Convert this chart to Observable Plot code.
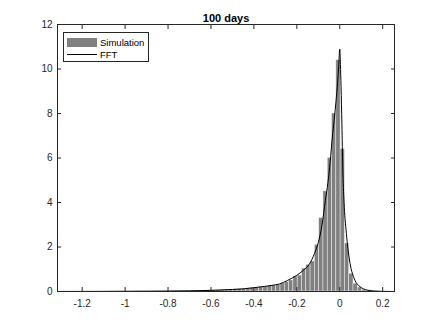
<!DOCTYPE html>
<html>
<head>
<meta charset="utf-8">
<script src="https://cdn.jsdelivr.net/npm/d3@7"></script>
<script src="https://cdn.jsdelivr.net/npm/@observablehq/plot@0.6"></script>
<style>
  html, body { margin: 0; padding: 0; background: #fff; }
  #wrap { position: relative; width: 436px; height: 327px; font-family: "Liberation Sans", Arial, Helvetica, sans-serif; }
  #legend { position: absolute; left: 63px; top: 32px; width: 86px; height: 30px; border: 1px solid #262626; background: #fff; font-size: 9.5px; color: #000; box-sizing: border-box; }
  .row { position: absolute; left: 3px; display: flex; align-items: center; height: 12px; white-space: nowrap; }
  .row span { color: #000; }
  .sw { width: 30px; height: 9px; background: #808080; margin-right: 3px; }
  .ln { width: 30px; height: 0; border-top: 1px solid #000; margin-right: 3px; }
</style>
</head>
<body>
<div id="wrap"></div>
<script>
const title = "100 days";
const seriesNames = ["Simulation", "FFT"];
// histogram (density) : first bin starts at binStart, each bin is binWidth wide
const binStart = -1.296;
const binWidth = 0.02;
const simDensity = [
  0.002,0,0.003,0.002,0.003,0.004,0.003,0.005,0.004,0.006,
  0.005,0.007,0.006,0.008,0.009,0.008,0.01,0.011,0.012,0.013,
  0.015,0.014,0.017,0.019,0.02,0.022,0.024,0.026,0.029,0.031,
  0.035,0.038,0.042,0.046,
  0.05,0.055,0.06,0.07,0.08,0.09,0.1,0.11,0.12,0.14,
  0.16,0.17,0.2,0.22,0.24,0.27,0.3,0.36,0.42,0.5,
  0.68,0.72,1.03,1.2,1.35,2.1,3.3,4.5,6.0,8.0,
  10.4,6.4,2.16,0.8,0.35,0.18,0.08,0.04,0.02,0.01,0.005,0.002,0.001
];
// FFT density curve
const fftX = [-1.31,-1.2,-1.1,-1.0,-0.9,-0.8,-0.7,-0.6,-0.5,-0.45,-0.4,-0.35,-0.3,-0.28,-0.243,-0.2,-0.17,-0.141,-0.118,-0.1,-0.083,-0.067,-0.055,-0.045,-0.033,-0.025,-0.018,-0.01,-0.005,0,0.003,0.006,0.01,0.014,0.02,0.029,0.036,0.044,0.052,0.06,0.075,0.09,0.11,0.13,0.16,0.2,0.25];
const fftY = [0.002,0.003,0.005,0.008,0.013,0.02,0.03,0.05,0.09,0.12,0.17,0.23,0.3,0.34,0.5,0.73,0.95,1.24,1.7,2.2,2.97,4.1,4.9,5.8,7.1,7.8,8.5,9.4,10.1,10.9,10.2,9.2,7.5,5.6,4.0,2.8,2.1,1.5,1.05,0.78,0.42,0.25,0.12,0.06,0.02,0.005,0.001];
const xTicks = [-1.2,-1,-0.8,-0.6,-0.4,-0.2,0,0.2];
const yTicks = [0,2,4,6,8,10,12];
const xDomain = [-1.315, 0.255];
const yDomain = [0, 12];

const bins = simDensity.map((v, i) => ({x1: binStart + i * binWidth, x2: binStart + (i + 1) * binWidth, y: v}));
const fft = fftX.map((x, i) => ({x, y: fftY[i]}));
const fmt = d => String(+d.toFixed(1));
const axisColor = "#262626";

const chart = Plot.plot({
  width: 436,
  height: 327,
  marginLeft: 57,
  marginRight: 42,
  marginTop: 24,
  marginBottom: 36,
  style: {fontFamily: "'Liberation Sans', Arial, Helvetica, sans-serif", fontSize: "10px", color: axisColor, background: "white"},
  x: {domain: xDomain, ticks: xTicks},
  y: {domain: yDomain, ticks: yTicks},
  marks: [
    Plot.rectY(bins, {x1: "x1", x2: "x2", y: "y", fill: "#808080", stroke: "#ffffff", strokeWidth: 0.6, strokeOpacity: 0.7}),
    Plot.line(fft, {x: "x", y: "y", stroke: "#000", strokeWidth: 1, curve: "monotone-x"}),
    Plot.frame({stroke: axisColor, strokeWidth: 1}),
    Plot.axisX(xTicks, {anchor: "bottom", tickSize: -4, tickPadding: 12, tickFormat: fmt, label: null, stroke: axisColor, fill: axisColor}),
    Plot.axisX(xTicks, {anchor: "top", tickSize: -4, tickFormat: () => "", label: null, stroke: axisColor}),
    Plot.axisY(yTicks, {anchor: "left", tickSize: -4, tickPadding: 9, tickFormat: fmt, label: null, stroke: axisColor, fill: axisColor}),
    Plot.axisY(yTicks, {anchor: "right", tickSize: -4, tickFormat: () => "", label: null, stroke: axisColor}),
    Plot.text([title], {frameAnchor: "top", lineAnchor: "bottom", dy: -3, text: d => d, fontWeight: "bold", fontSize: 11, fill: "#000"})
  ]
});
const wrap = document.getElementById("wrap");
wrap.appendChild(chart);
const leg = document.createElement("div");
leg.id = "legend";
leg.innerHTML = `<div class="row" style="top:3px"><div class="sw"></div><span>${seriesNames[0]}</span></div>` +
                `<div class="row" style="top:15px"><div class="ln"></div><span>${seriesNames[1]}</span></div>`;
wrap.appendChild(leg);
</script>
</body>
</html>
